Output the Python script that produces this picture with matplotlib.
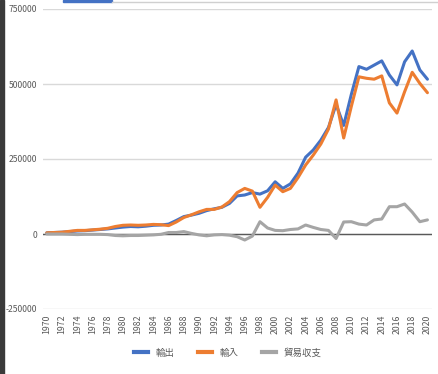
import matplotlib
matplotlib.use("Agg")
import matplotlib.pyplot as plt
from matplotlib.patches import Rectangle
from matplotlib.lines import Line2D

plt.rcParams['font.family'] = ['Noto Sans CJK JP', 'DejaVu Sans']

years = list(range(1970, 2021))
exports = [4000, 5000, 6000, 8000, 10000, 11000, 13000, 15000, 17000, 20000,
           23000, 25000, 24000, 26000, 29000, 30000, 33000, 45000, 58000, 63000,
           69000, 78000, 84000, 89000, 102000, 127000, 130000, 138000, 133000, 144000,
           174000, 152000, 167000, 203000, 256000, 280000, 313000, 355000, 432000, 362000,
           465000, 558000, 549000, 563000, 577000, 530000, 497000, 574000, 610000, 547000,
           516000]
imports = [4000, 5000, 6000, 9000, 12000, 12000, 14000, 16000, 19000, 25000,
           29000, 30000, 29000, 30000, 32000, 31000, 28000, 40000, 55000, 64000,
           74000, 82000, 82000, 90000, 108000, 138000, 152000, 143000, 89000, 122000,
           163000, 141000, 152000, 188000, 230000, 263000, 300000, 350000, 447000, 320000,
           425000, 524000, 519000, 516000, 527000, 437000, 403000, 474000, 539000, 502000,
           471000]
balance = [0, 0, 0, -1000, -2000, -1000, -1000, -1000, -2000, -5000,
           -6000, -5000, -5000, -4000, -3000, -1000, 5000, 5000, 8000, 2000,
           -3000, -6000, -3000, -2000, -4000, -9000, -20000, -7000, 41000, 20000,
           12000, 11000, 15000, 17000, 30000, 22000, 15000, 12000, -15000, 40000,
           41000, 33000, 30000, 47000, 50000, 91000, 91000, 100000, 73000, 41000,
           47000]
labels = ['輸出', '輸入', '貿易収支']
colors = ['#4472C4', '#ED7D31', '#A5A5A5']
yticks = [-250000, 0, 250000, 500000, 750000]

fig = plt.figure(figsize=(4.38, 3.74), dpi=100)
ax = fig.add_axes([43/438, 1 - 309/374, (432 - 43)/438, 300/374])

for vals, c, lab in zip([exports, imports, balance], colors, labels):
    ax.plot(years, vals, color=c, lw=2.2, label=lab, solid_capstyle='round', zorder=3)

ax.set_ylim(-250000, 750000)
ax.set_xlim(1969.5, 2020.6)
ax.set_yticks(yticks)
ax.set_yticklabels([str(v) for v in yticks], fontsize=6.2, color='#595959')
ax.yaxis.grid(True, color='#D9D9D9', lw=1)
ax.set_axisbelow(True)
ax.axhline(0, color='#595959', lw=1, zorder=2)
for s in ax.spines.values():
    s.set_visible(False)
ax.tick_params(axis='y', length=0, pad=4)
ax.set_xticks(years[::2])
ax.set_xticklabels([str(y) for y in years[::2]], rotation=90, fontsize=6.3,
                   color='#595959')
ax.tick_params(axis='x', length=0, pad=4)

handles = [Line2D([0], [0], color=c, lw=3) for c in colors]
fig.legend(handles, labels, loc='center', bbox_to_anchor=(0.52, 1 - 353/374),
           ncol=3, frameon=False, fontsize=6.8, handlelength=1.5,
           columnspacing=2.5, labelcolor='#595959')

# screenshot frame decorations
fig.patches.append(Rectangle((0, 0), 4/438, 1, transform=fig.transFigure,
                             color='#3a3a3a', zorder=0))
fig.patches.append(Rectangle((63/438, 1 - 2/374), 49/438, 2/374,
                             transform=fig.transFigure, color='#4472C4', zorder=0))
fig.lines.append(Line2D([112/438, 1], [1 - 1.5/374, 1 - 1.5/374],
                        transform=fig.transFigure, color='#D0D0D0', lw=1))

fig.savefig('out.png', dpi=100)
